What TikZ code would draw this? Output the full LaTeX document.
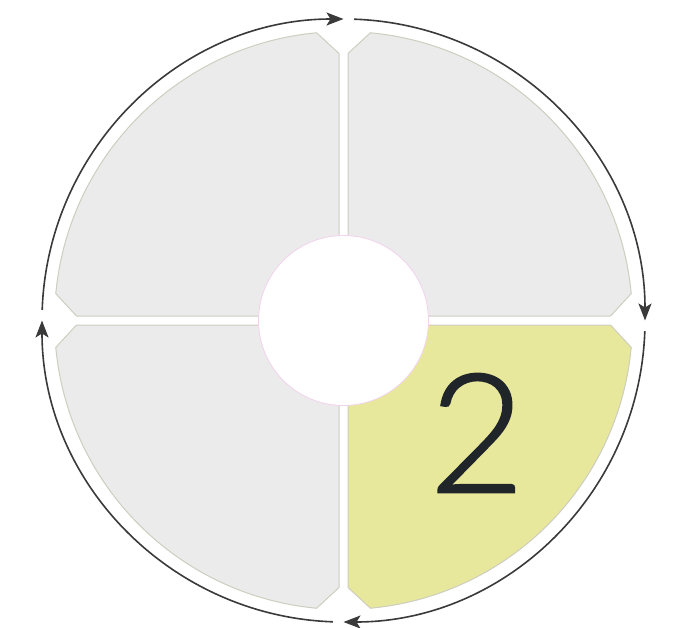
\documentclass[tikz,border=0pt]{standalone}
\usepackage{fontspec}
\usetikzlibrary{arrows.meta}
\IfFontExistsTF{Lato Light}{\newfontfamily\numfont[FakeBold=1.2]{Lato Light}}{\newfontfamily\numfont{Lato}}
\definecolor{qgray}{HTML}{EBEBEB}
\definecolor{qborder}{HTML}{CDCDC0}
\definecolor{qyellow}{HTML}{E8E89C}
\definecolor{arrowcol}{HTML}{3A3A3A}
\definecolor{numcol}{HTML}{1F2529}
\definecolor{ringcol}{HTML}{F2D2EC}
\tikzset{
  quad/.style={draw=qborder, line width=1pt, fill=qgray},
  quadhl/.style={quad, fill=qyellow},
  cyclearrow/.style={draw=arrowcol, line width=1.6pt, -{Stealth[length=17pt,width=13pt,inset=4pt]}},
  hub/.style={circle, draw=ringcol, line width=0.8pt, fill=white, minimum size=170pt, inner sep=0pt},
  numlabel/.style={inner sep=0pt, text=numcol, font=\numfont\fontsize{166}{166}\selectfont}
}
\newcommand{\quadpath}{(4.5,4.5) -- (4.5,267) -- (84.66:289) arc[start angle=84.66, end angle=5.34, radius=289] -- (267,4.5) -- cycle}
\begin{document}
\begin{tikzpicture}[x=1pt,y=1pt]
\useasboundingbox (-343.5,-306.5) rectangle (332.5,320.5);
% quadrants
\path[quad] \quadpath;
\begin{scope}[rotate=90]\path[quad] \quadpath;\end{scope}
\begin{scope}[rotate=180]\path[quad] \quadpath;\end{scope}
\begin{scope}[rotate=270]\path[quadhl] \quadpath;\end{scope}
% hub
\node[hub] (hub) at (0,0) {};
% number
\node[numlabel] (num) at (133.5,-112.5) {2};
% cycle arrows
\draw[cyclearrow] (178:301.5) arc[start angle=178, end angle=90, radius=301.5];
\draw[cyclearrow] (88:301.5) arc[start angle=88, end angle=0, radius=301.5];
\draw[cyclearrow] (-2:301.5) arc[start angle=-2, end angle=-90, radius=301.5];
\draw[cyclearrow] (-92:301.5) arc[start angle=-92, end angle=-180, radius=301.5];
\end{tikzpicture}
\end{document}
